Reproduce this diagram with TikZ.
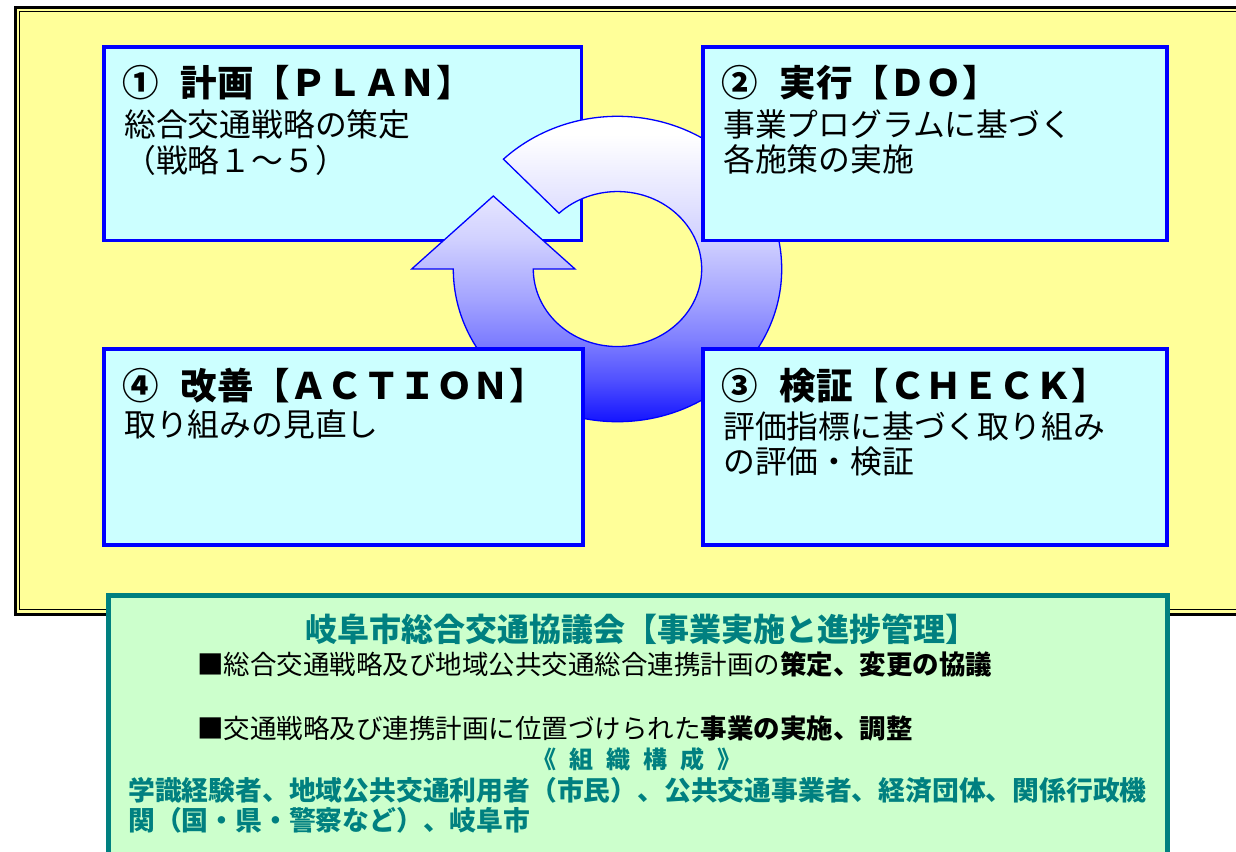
\documentclass[tikz,border=0pt]{standalone}
\usepackage{fontspec}
\setmainfont{Noto Sans CJK JP}
\definecolor{bgyellow}{HTML}{FFFF99}
\definecolor{boxcyan}{HTML}{CCFFFF}
\definecolor{boxblue}{HTML}{0000FF}
\definecolor{grnfill}{HTML}{CCFFCC}
\definecolor{tealc}{HTML}{008080}
\pgfdeclareverticalshading{ringshade}{100bp}{color(0bp)=(blue!92!white); color(25bp)=(blue!92!white); color(32bp)=(blue!68!white); color(38.5bp)=(blue!50!white); color(45bp)=(blue!36!white); color(50bp)=(blue!27!white); color(55bp)=(blue!18!white); color(62bp)=(blue!10!white); color(72bp)=(white); color(100bp)=(white)}
\begin{document}
\begin{tikzpicture}[x=1pt,y=-1pt,
  cyanbox/.style={draw=boxblue, fill=boxcyan, line width=3.6pt, inner sep=0pt, outer sep=0pt},
  grnbox/.style={draw=tealc, fill=grnfill, line width=5pt, inner sep=0pt, outer sep=0pt},
  ttl/.style={anchor=west, inner sep=0pt, font=\fontsize{36.5}{40}\selectfont\bfseries},
  bodytxt/.style={anchor=west, inner sep=0pt, font=\fontsize{31.8}{36}\selectfont},
  gtitle/.style={inner sep=0pt, text=tealc, font=\fontsize{32}{36}\selectfont\bfseries},
  gline/.style={anchor=west, inner sep=0pt, font=\fontsize{26.5}{30}\selectfont},
  gteal/.style={anchor=west, inner sep=0pt, text=tealc, font=\fontsize{26.8}{30}\selectfont\bfseries},
  gsub/.style={inner sep=0pt, text=tealc, font=\fontsize{24}{26}\selectfont\bfseries},
  ring/.style={draw=boxblue, line width=1.3pt, shading=ringshade}
]
\useasboundingbox (0,0) rectangle (1236,851);
% yellow framed background
\fill[bgyellow] (15,8) rectangle (1250,614.5);
\draw[black, line width=3pt] (1250,8) -- (15,8) -- (15,614.5) -- (1250,614.5);
\draw[black, line width=1.4pt] (1250,11.8) -- (19.5,11.8) -- (19.5,609.5) -- (1250,609.5);

% box 1 (below the ring)
\node[cyanbox, minimum width=477.5pt, minimum height=193.5pt] (plan) at (342.75,143.75) {};

% circular arrow
\path[ring] (453.3,269)
  arc[start angle=180, end angle=-134, x radius=164.2, y radius=152.7]
  -- (559,213.3)
  arc[start angle=-134, end angle=180, x radius=84.2, y radius=77.5]
  -- (575,269) -- (493.3,196) -- (411.7,269) -- cycle;

% other boxes
\node[cyanbox, minimum width=464pt, minimum height=193.5pt] (do) at (935,143.75) {};
\node[cyanbox, minimum width=464pt, minimum height=196pt] (check) at (935,447) {};
\node[cyanbox, minimum width=479pt, minimum height=196pt] (action) at (343.5,447) {};

% box texts
\node[ttl] (t1) at (122,83) {①\hspace{0.6em}計画【ＰＬＡＮ】};
\node[bodytxt] (b1a) at (124,124) {総合交通戦略の策定};
\node[bodytxt] (b1b) at (124,160) {（戦略１～５）};

\node[ttl] (t2) at (721,83) {②\hspace{0.6em}実行【ＤＯ】};
\node[bodytxt] (b2a) at (723,124.5) {事業プログラムに基づく};
\node[bodytxt] (b2b) at (723,159.5) {各施策の実施};

\node[ttl] (t3) at (721,385.5) {③\hspace{0.6em}検証【ＣＨＥＣＫ】};
\node[bodytxt] (b3a) at (723,426.3) {評価指標に基づく取り組み};
\node[bodytxt] (b3b) at (723,461) {の評価・検証};

\node[ttl] (t4) at (122,386) {④\hspace{0.6em}改善【ＡＣＴＩＯＮ】};
\node[bodytxt] (b4a) at (124,424.7) {取り組みの見直し};

% green council box
\node[grnbox, minimum width=1059pt, minimum height=284.5pt] (council) at (638,737.75) {};
\node[gtitle] (ct) at (641,629) {岐阜市総合交通協議会【事業実施と進捗管理】};
\node[gline] (c1) at (197,664) {■総合交通戦略及び地域公共交通総合連携計画の{\bfseries 策定、変更の協議}};
\node[gline] (c2) at (197,728) {■交通戦略及び連携計画に位置づけられた{\bfseries 事業の実施、調整}};
\node[gsub] (cs) at (637,759) {《\hspace{13pt}組\hspace{13pt}織\hspace{13pt}構\hspace{13pt}成\hspace{13pt}》};
\node[gteal] (c3) at (128,790) {学識経験者、地域公共交通利用者（市民）、公共交通事業者、経済団体、関係行政機};
\node[gteal] (c4) at (128,820) {関（国・県・警察など）、岐阜市};
\end{tikzpicture}
\end{document}
